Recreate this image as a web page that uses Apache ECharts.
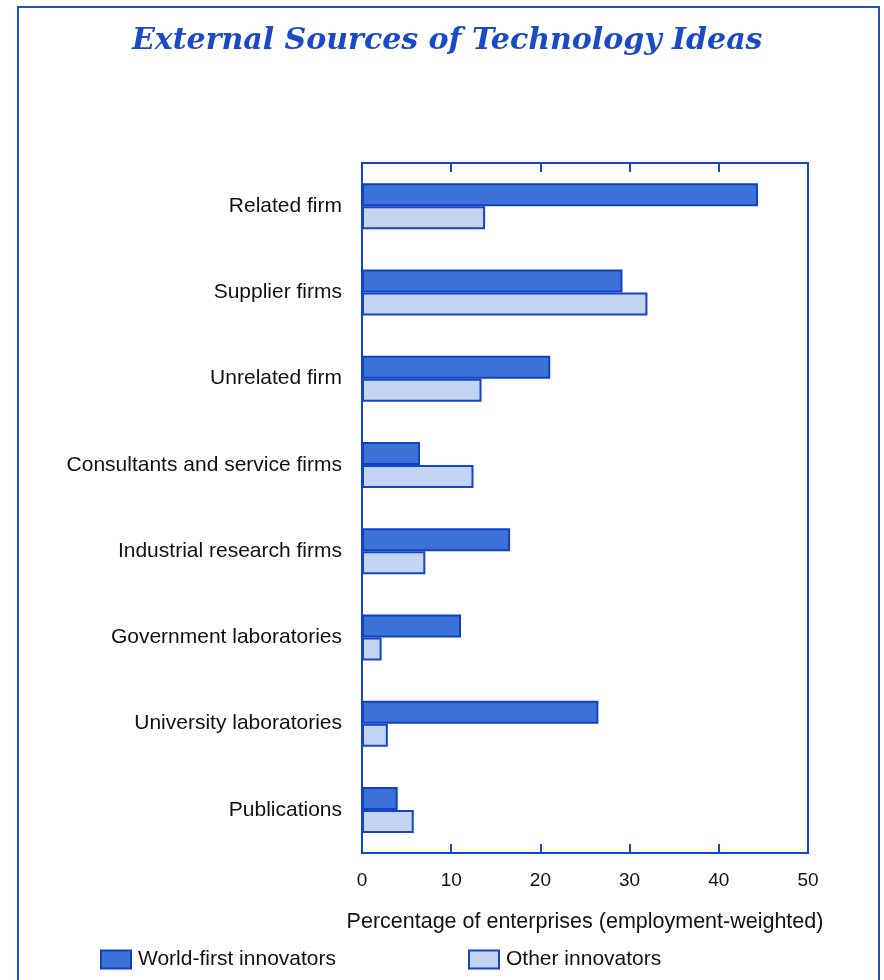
<!DOCTYPE html>
<html><head><meta charset="utf-8">
<script src="https://cdn.jsdelivr.net/npm/echarts@6/dist/echarts.min.js"></script>
<style>html,body{margin:0;padding:0;background:#fff}#c{width:884px;height:980px}</style>
</head><body><div id="c"></div>
<script>
const categories = ["Related firm","Supplier firms","Unrelated firm","Consultants and service firms","Industrial research firms","Government laboratories","University laboratories","Publications"];
const worldFirst = [44.4, 29.2, 21.1, 6.5, 16.6, 11.1, 26.5, 4.0];
const otherInnov = [13.8, 32.0, 13.4, 12.5, 7.1, 2.2, 2.9, 5.8];
const xTicks = [0, 10, 20, 30, 40, 50];

const blue = '#1446c8';
const chart = echarts.init(document.getElementById('c'));
const legendText = { fontFamily: 'Liberation Sans', fontSize: 21, color: '#111', padding: [0, 0, 0, 2] };
chart.setOption({
  animation: false,
  title: {
    text: 'External Sources of Technology Ideas',
    left: 127, top: 21,
    textStyle: { fontFamily: 'DejaVu Serif', fontStyle: 'italic', fontWeight: 'bold', fontSize: 30, color: '#1a4ac6' }
  },
  graphic: [{
    type: 'rect', shape: { x: 18, y: 7, width: 861, height: 1000 },
    style: { fill: 'none', stroke: '#1a52d0', lineWidth: 2 }, silent: true
  }],
  grid: { left: 362, right: 76, top: 163, bottom: 127, show: true, borderColor: blue, borderWidth: 2, backgroundColor: 'transparent' },
  legend: [
    { data: ['World-first innovators'], left: 95, top: 944, itemWidth: 30, itemHeight: 18, icon: 'rect',
      textStyle: legendText },
    { data: ['Other innovators'], left: 463, top: 944, itemWidth: 30, itemHeight: 18, icon: 'rect',
      textStyle: legendText }
  ],
  xAxis: [{
    type: 'value', min: 0, max: 50, interval: 10, position: 'bottom',
    axisLine: { show: true, lineStyle: { color: blue, width: 2 } },
    axisTick: { show: true, inside: true, length: 9, lineStyle: { color: blue, width: 2 } },
    splitLine: { show: false },
    axisLabel: { fontFamily: 'Liberation Sans', fontSize: 19, color: '#111', margin: 18,
      formatter: v => xTicks.includes(v) ? String(v) : '' },
    name: 'Percentage of enterprises (employment-weighted)', nameLocation: 'middle', nameGap: 58,
    nameTextStyle: { fontFamily: 'Liberation Sans', fontSize: 21.5, color: '#111' }
  }, {
    type: 'value', min: 0, max: 50, interval: 10, position: 'top',
    axisLine: { show: true, lineStyle: { color: blue, width: 2 } },
    axisTick: { show: true, inside: true, length: 9, lineStyle: { color: blue, width: 2 } },
    splitLine: { show: false }, axisLabel: { show: false }
  }],
  yAxis: {
    type: 'category', data: categories, inverse: true,
    axisLine: { show: true, lineStyle: { color: blue, width: 2 } },
    axisTick: { show: false },
    axisLabel: { fontFamily: 'Liberation Sans', fontSize: 21, color: '#111', margin: 20 }
  },
  series: [{
    name: 'World-first innovators', type: 'bar', data: worldFirst, xAxisIndex: 0,
    barWidth: 23, barGap: '0%',
    itemStyle: { color: '#3d72d8', borderColor: '#1040c4', borderWidth: 2 }
  }, {
    name: 'Other innovators', type: 'bar', data: otherInnov, xAxisIndex: 0,
    barWidth: 23, barGap: '0%',
    itemStyle: { color: '#c3d5f2', borderColor: '#1444c8', borderWidth: 2 }
  }]
});
</script></body></html>
